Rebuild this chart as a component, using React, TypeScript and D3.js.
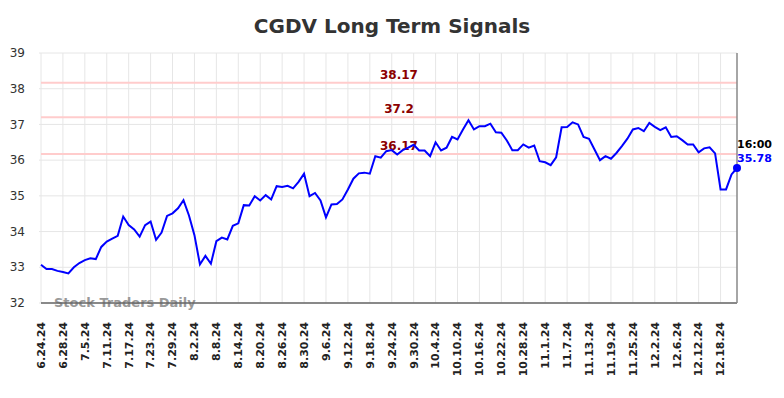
import React from "react";
import * as d3 from "d3";

// closing prices, one per trading day (6.24.24 -> 12.23.24)
const prices = [
  33.07, 32.95, 32.95, 32.9, 32.87, 32.83, 33.0, 33.12, 33.2, 33.25,
  33.23, 33.57, 33.72, 33.8, 33.88, 34.42, 34.18, 34.06, 33.86, 34.18,
  34.28, 33.77, 33.97, 34.44, 34.51, 34.65, 34.88, 34.45, 33.9, 33.08,
  33.32, 33.1, 33.73, 33.83, 33.78, 34.16, 34.23, 34.74, 34.73, 34.99,
  34.87, 35.02, 34.9, 35.27, 35.25, 35.28, 35.21, 35.39, 35.62, 34.99,
  35.08, 34.87, 34.4, 34.76, 34.77, 34.9, 35.18, 35.48, 35.63, 35.65,
  35.62, 36.11, 36.07, 36.25, 36.28, 36.16, 36.28, 36.35, 36.43, 36.27,
  36.27, 36.11, 36.5, 36.27, 36.35, 36.65, 36.58, 36.86, 37.12, 36.86,
  36.95, 36.95, 37.02, 36.78, 36.77, 36.55, 36.28, 36.28, 36.44, 36.35,
  36.41, 35.97, 35.94, 35.86, 36.08, 36.92, 36.93, 37.06, 37.0, 36.65,
  36.6, 36.3, 36.0, 36.11, 36.04, 36.2, 36.39, 36.6, 36.86, 36.9,
  36.81, 37.04, 36.93, 36.84, 36.92, 36.65, 36.67, 36.56, 36.44, 36.44,
  36.22, 36.33, 36.36, 36.19, 35.18, 35.18, 35.6, 35.78,
];

// a label every 4th trading day
const tickLabels = [
  "6.24.24", "6.28.24", "7.5.24", "7.11.24", "7.17.24", "7.23.24", "7.29.24",
  "8.2.24", "8.8.24", "8.14.24", "8.20.24", "8.26.24", "8.30.24", "9.6.24",
  "9.12.24", "9.18.24", "9.24.24", "9.30.24", "10.4.24", "10.10.24",
  "10.16.24", "10.22.24", "10.28.24", "11.1.24", "11.7.24", "11.13.24",
  "11.19.24", "11.25.24", "12.2.24", "12.6.24", "12.12.24", "12.18.24",
];
const tickStep = 4;

const signalLevels = [38.17, 37.2, 36.17];
const yTicks = [32, 33, 34, 35, 36, 37, 38, 39];
const lastTime = "16:00";

const W = 784;
const H = 398;
const margin = { top: 53, right: 47, bottom: 95, left: 41 };
const font = "DejaVu Sans, sans-serif";

export default function App() {
  const x = d3
    .scaleLinear()
    .domain([0, prices.length - 1])
    .range([margin.left, W - margin.right]);
  const y = d3
    .scaleLinear()
    .domain([32, 39])
    .range([H - margin.bottom, margin.top]);

  const line = d3
    .line<number>()
    .x((d, i) => x(i))
    .y((d) => y(d));

  const last = prices.length - 1;
  const x0 = margin.left;
  const x1 = W - margin.right;
  const y0 = H - margin.bottom;
  const y1 = margin.top;

  return (
    <svg
      width={W}
      height={H}
      style={{ position: "absolute", left: 0, top: 0, background: "#fff" }}
      fontFamily={font}
    >
      <text
        x={W / 2}
        y={33}
        textAnchor="middle"
        fontSize={20}
        fontWeight="bold"
        fill="#333"
      >
        CGDV Long Term Signals
      </text>

      {/* grid */}
      {yTicks.map((t) => (
        <line
          key={"gy" + t}
          x1={x0 - 2}
          x2={x1}
          y1={y(t)}
          y2={y(t)}
          stroke="#e6e6e6"
          strokeWidth={1}
        />
      ))}
      {tickLabels.map((lab, i) => (
        <line
          key={"gx" + lab}
          x1={x(i * tickStep)}
          x2={x(i * tickStep)}
          y1={y1}
          y2={y0}
          stroke="#e6e6e6"
          strokeWidth={1}
        />
      ))}

      {/* y labels */}
      {yTicks.map((t) => (
        <text
          key={"ty" + t}
          x={25}
          y={y(t)}
          dy="0.35em"
          textAnchor="end"
          fontSize={12}
          fill="#333"
        >
          {t}
        </text>
      ))}

      {/* x labels */}
      {tickLabels.map((lab, i) => (
        <text
          key={"tx" + lab}
          transform={`translate(${x(i * tickStep)},${y0 + 19}) rotate(-90)`}
          dy="0.35em"
          textAnchor="end"
          fontSize={11}
          fontWeight="bold"
          fill="#222"
        >
          {lab}
        </text>
      ))}

      {/* signal levels */}
      {signalLevels.map((s) => (
        <g key={"s" + s}>
          <line
            x1={x0}
            x2={x1}
            y1={y(s)}
            y2={y(s)}
            stroke="#ffcccc"
            strokeWidth={2}
          />
          <text
            x={399}
            y={y(s) - 4}
            textAnchor="middle"
            fontSize={12}
            fontWeight="bold"
            fill="#8b0000"
          >
            {s}
          </text>
        </g>
      ))}

      <text x={54} y={307} fontSize={13} fontWeight="bold" fill="#999">
        Stock Traders Daily
      </text>

      {/* axes */}
      <line x1={x0} x2={x1} y1={y0} y2={y0} stroke="#666" strokeWidth={1.5} />
      <line x1={x1} x2={x1} y1={y1} y2={y0} stroke="#888" strokeWidth={1.5} />

      <path d={line(prices) || ""} fill="none" stroke="#0000ff" strokeWidth={2} />
      <circle cx={x(last)} cy={y(prices[last])} r={4} fill="#0000ff" />

      <text x={x(last)} y={y(prices[last]) - 20} fontSize={11} fontWeight="bold" fill="#000">
        {lastTime}
      </text>
      <text x={x(last)} y={y(prices[last]) - 6} fontSize={11} fontWeight="bold" fill="#0000ff">
        {prices[last].toFixed(2)}
      </text>
    </svg>
  );
}
